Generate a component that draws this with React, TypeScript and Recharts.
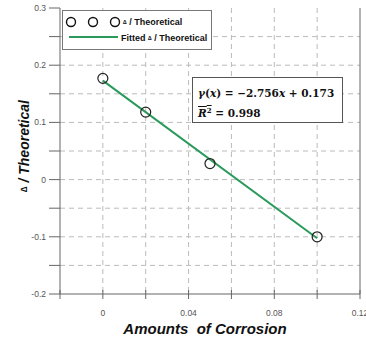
import {
  ComposedChart,
  Scatter,
  Line,
  XAxis,
  YAxis,
  CartesianGrid,
  ReferenceLine,
  Legend,
} from "recharts";

// measured points (Amounts of Corrosion vs Δ / Theoretical)
const corrosion = [0, 0.02, 0.05, 0.1];
const ratio = [0.177, 0.118, 0.028, -0.1];

// fitted line y = -2.756x + 0.173
const fitX = [0, 0.1];
const fitY = [0.173, -0.1026];

const xTicks = [-0.02, 0, 0.02, 0.04, 0.06, 0.08, 0.1, 0.12];
const xLabeled = [0, 0.04, 0.08, 0.12];
const yTicks = [-0.2, -0.15, -0.1, -0.05, 0, 0.05, 0.1, 0.15, 0.2, 0.25, 0.3];
const yLabeled = [-0.2, -0.1, 0, 0.1, 0.2, 0.3];
const gridX = [0, 0.02, 0.04, 0.06, 0.08, 0.1];
const gridY = [-0.15, -0.1, -0.05, 0, 0.05, 0.1, 0.15, 0.2, 0.25];

const points = corrosion.map((x, i) => ({ x, y: ratio[i] }));
const fit = fitX.map((x, i) => ({ x, fit: fitY[i] }));

const GREEN = "#2a9a5c";
const AXIS = "#666";
const TICK_FONT = { fontSize: 8.5, fill: "#555", fontFamily: "Liberation Sans, Arial" };

const has = (arr: number[], v: number) => arr.some((a) => Math.abs(a - v) < 1e-9);

function YTick(props: any) {
  const { x, y, payload } = props;
  const v = payload.value;
  return (
    <g>
      <line x1={x - 11} x2={x} y1={y} y2={y} stroke={AXIS} strokeWidth={1} />
      {has(yLabeled, v) && (
        <text x={x - 14} y={y + 3} textAnchor="end" {...TICK_FONT}>
          {String(v)}
        </text>
      )}
    </g>
  );
}

function XTick(props: any) {
  const { x, y, payload } = props;
  const v = payload.value;
  return (
    <g>
      <line x1={x} x2={x} y1={y - 4} y2={y + 5} stroke={AXIS} strokeWidth={1} />
      {has(xLabeled, v) && (
        <text x={x} y={y + 22} textAnchor="middle" {...TICK_FONT}>
          {String(v)}
        </text>
      )}
    </g>
  );
}

function YLabel(props: any) {
  const { viewBox } = props;
  const cx = viewBox.x + 24;
  const cy = viewBox.y + viewBox.height / 2 - 5;
  return (
    <text
      x={cx}
      y={cy}
      transform={`rotate(-90 ${cx} ${cy})`}
      textAnchor="middle"
      dominantBaseline="central"
      fontFamily="Liberation Sans, Arial"
      fontWeight="bold"
      fontStyle="italic"
      fontSize={14}
      fill="#111"
    >
      <tspan fontSize={9}>∆</tspan> / Theoretical
    </text>
  );
}

function LegendBox() {
  const txt = { fontFamily: "Liberation Sans, Arial", fontWeight: "bold" as const, fontSize: 9, fill: "#111" };
  return (
    <div style={{ width: 150, height: 40, border: "1px solid #777", background: "#fff", boxSizing: "border-box" }}>
      <svg width={148} height={38} style={{ display: "block" }}>
        {[8, 30, 52].map((cx) => (
          <circle key={cx} cx={cx} cy={11} r={4.5} fill="none" stroke="#111" strokeWidth={1.4} />
        ))}
        <text x={60} y={14} {...txt}>
          <tspan fontSize={6} dy={-1}>∆</tspan>
          <tspan dy={1}> / Theoretical</tspan>
        </text>
        <line x1={6} x2={55} y1={26} y2={26} stroke={GREEN} strokeWidth={2} />
        <text x={58} y={29.5} {...txt}>
          Fitted <tspan fontSize={6} dy={-1}>∆</tspan>
          <tspan dy={1}> / Theoretical</tspan>
        </text>
      </svg>
    </div>
  );
}

function Equation() {
  const f = {
    fontFamily: "DejaVu Serif, Liberation Serif, serif",
    fontWeight: "bold" as const,
    fontSize: 10.5,
    color: "#111",
    lineHeight: "20px",
  };
  return (
    <div
      style={{
        position: "absolute",
        left: 192,
        top: 77,
        width: 151,
        height: 46,
        border: "1px solid #555",
        background: "#fff",
        boxSizing: "border-box",
        padding: "5px 0 0 5px",
        whiteSpace: "nowrap",
        ...f,
      }}
    >
      <div>
        <i>γ</i>(<i>x</i>) = −2.756<i>x</i> + 0.173
      </div>
      <div>
        <span style={{ textDecoration: "overline" }}>
          <i>R</i>
          <sup style={{ fontSize: 7, lineHeight: 0 }}>2</sup>
        </span>{" "}
        = 0.998
      </div>
    </div>
  );
}

export default function App() {
  return (
    <div style={{ position: "absolute", left: 0, top: 0, width: 366, height: 343, background: "#fff" }}>
      <ComposedChart width={366} height={343} margin={{ top: 8, right: 6, bottom: 0, left: 0 }}>
        <CartesianGrid
          stroke="#bbb"
          strokeDasharray="5 4"
          horizontalValues={gridY}
          verticalValues={gridX}
        />
        <XAxis
          type="number"
          dataKey="x"
          domain={[-0.02, 0.12]}
          ticks={xTicks}
          interval={0}
          height={49}
          tickSize={0}
          tickMargin={0}
          tickLine={false}
          axisLine={{ stroke: AXIS }}
          tick={<XTick />}
          allowDataOverflow
          label={{
            value: "Amounts\u00a0\u00a0of Corrosion",
            position: "insideBottom",
            offset: 9,
            dx: -5,
            style: {
              fontFamily: "Liberation Sans, Arial",
              fontWeight: "bold",
              fontStyle: "italic",
              fontSize: 15,
              fill: "#111",
            },
          }}
        />
        <YAxis
          type="number"
          domain={[-0.2, 0.3]}
          ticks={yTicks}
          interval={0}
          width={60}
          tickSize={0}
          tickMargin={0}
          tickLine={false}
          axisLine={{ stroke: AXIS }}
          tick={<YTick />}
          allowDataOverflow
          label={<YLabel />}
        />
        <ReferenceLine x={0.12} stroke={AXIS} />
        <Legend
          layout="vertical"
          align="center"
          verticalAlign="middle"
          wrapperStyle={{ position: "absolute", left: 62, top: 10, width: 150, height: 40 }}
          content={() => <LegendBox />}
        />
        <Line
          data={fit}
          dataKey="fit"
          type="linear"
          stroke={GREEN}
          strokeWidth={2}
          dot={false}
          isAnimationActive={false}
        />
        <Scatter
          data={points}
          dataKey="y"
          fill="none"
          stroke="#222"
          strokeWidth={1.2}
          shape={(p: any) => <circle cx={p.cx} cy={p.cy} r={5} fill="none" stroke="#222" strokeWidth={1.2} />}
          isAnimationActive={false}
        />
      </ComposedChart>
      <Equation />
    </div>
  );
}
